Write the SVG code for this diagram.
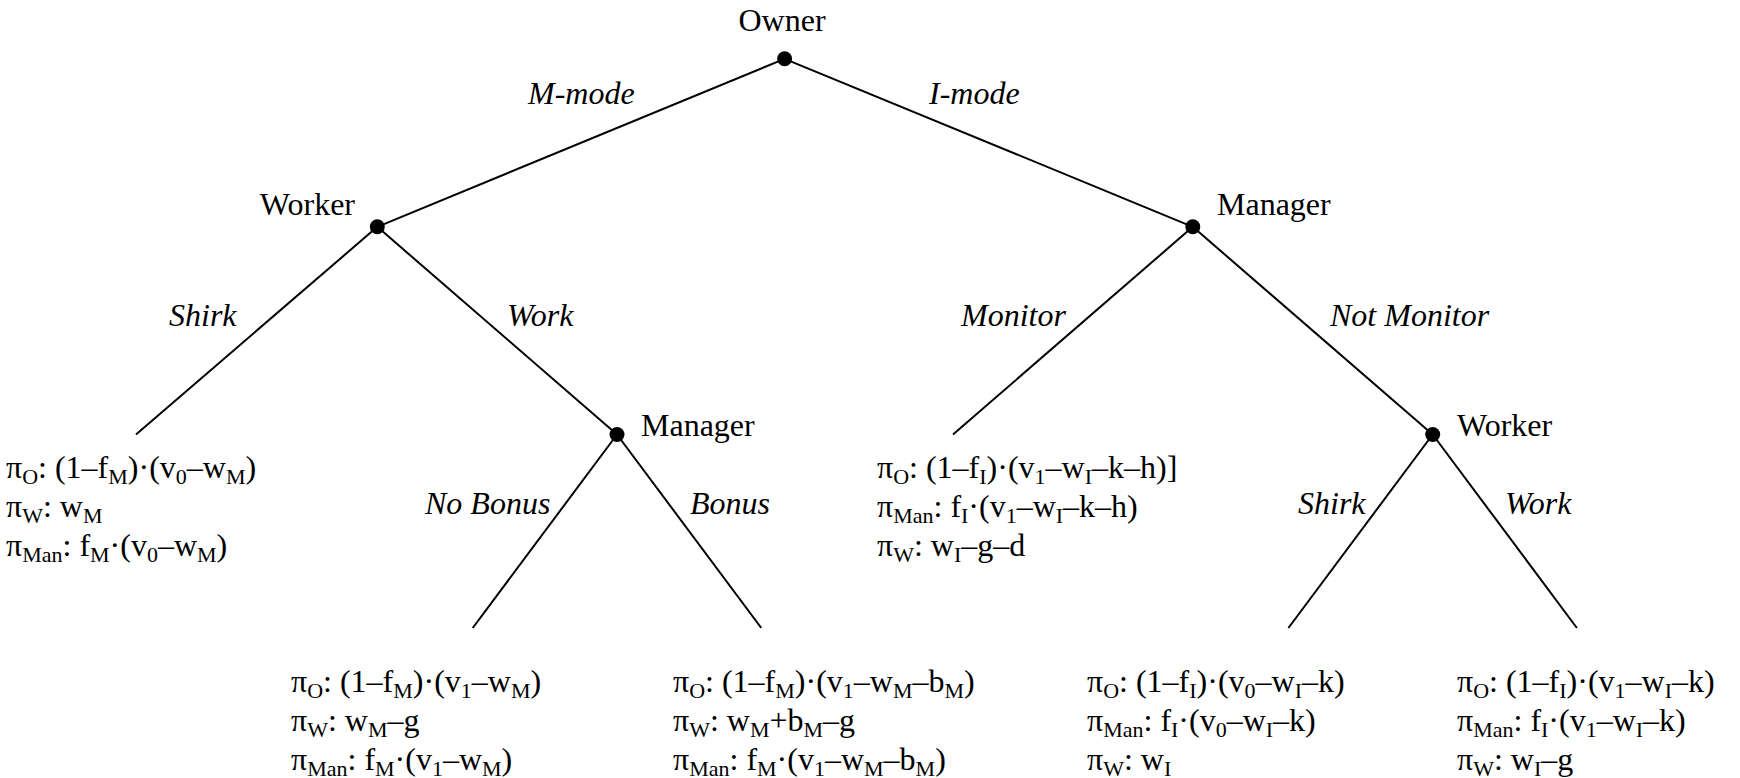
<svg xmlns="http://www.w3.org/2000/svg" width="1740" height="778" viewBox="0 0 1740 778">
<style>
text { font-family: "Liberation Serif", "Times New Roman", serif; font-size: 32px; fill: #000; }
.i { font-style: italic; }
.b { font-size: 22px; }
.e { stroke: #000; stroke-width: 2; fill: none; }
.dot { fill: #000; }
</style>
<rect width="1740" height="778" fill="#fff"/>
<g id="connectors">
  <line class="e" x1="784.6" y1="58.8" x2="377.3" y2="226.8"/>
  <line class="e" x1="784.6" y1="58.8" x2="1192.8" y2="226.8"/>
  <line class="e" x1="377.3" y1="226.8" x2="136" y2="434.5"/>
  <line class="e" x1="377.3" y1="226.8" x2="617" y2="434.5"/>
  <line class="e" x1="617" y1="434.5" x2="472.7" y2="628"/>
  <line class="e" x1="617" y1="434.5" x2="761.3" y2="628"/>
  <line class="e" x1="1192.8" y1="226.8" x2="953" y2="434.5"/>
  <line class="e" x1="1192.8" y1="226.8" x2="1432.7" y2="434.5"/>
  <line class="e" x1="1432.7" y1="434.5" x2="1288.4" y2="628"/>
  <line class="e" x1="1432.7" y1="434.5" x2="1576.9" y2="628"/>
</g>
<g id="edge-labels">
  <text class="i" x="528" y="104">M-mode</text>
  <text class="i" x="929" y="104">I-mode</text>
  <text class="i" x="169" y="326">Shirk</text>
  <text class="i" x="507" y="326">Work</text>
  <text class="i" x="961" y="326">Monitor</text>
  <text class="i" x="1330" y="326">Not Monitor</text>
  <text class="i" x="425" y="514">No Bonus</text>
  <text class="i" x="690" y="514">Bonus</text>
  <text class="i" x="1298" y="514">Shirk</text>
  <text class="i" x="1505" y="514">Work</text>
</g>
<g id="node-owner">
  <circle class="dot" cx="784.6" cy="58.8" r="7.5"/>
  <text x="782" y="31" text-anchor="middle">Owner</text>
</g>
<g id="node-worker-m">
  <circle class="dot" cx="377.3" cy="226.8" r="7.5"/>
  <text x="355" y="215" text-anchor="end">Worker</text>
</g>
<g id="node-manager-i">
  <circle class="dot" cx="1192.8" cy="226.8" r="7.5"/>
  <text x="1217" y="215">Manager</text>
</g>
<g id="node-manager-m">
  <circle class="dot" cx="617" cy="434.5" r="7.5"/>
  <text x="641" y="436">Manager</text>
</g>
<g id="node-worker-i">
  <circle class="dot" cx="1432.7" cy="434.5" r="7.5"/>
  <text x="1457" y="436">Worker</text>
</g>
<g id="payoff-m-shirk">
  <text x="6" y="478">π<tspan class="b" dy="6">O</tspan><tspan dy="-6">: (1–f</tspan><tspan class="b" dy="6">M</tspan><tspan dy="-6">)·(v</tspan><tspan class="b" dy="6">0</tspan><tspan dy="-6">–w</tspan><tspan class="b" dy="6">M</tspan><tspan dy="-6">)</tspan></text>
  <text x="6" y="517">π<tspan class="b" dy="6">W</tspan><tspan dy="-6">: w</tspan><tspan class="b" dy="6">M</tspan></text>
  <text x="6" y="556">π<tspan class="b" dy="6">Man</tspan><tspan dy="-6">: f</tspan><tspan class="b" dy="6">M</tspan><tspan dy="-6">·(v</tspan><tspan class="b" dy="6">0</tspan><tspan dy="-6">–w</tspan><tspan class="b" dy="6">M</tspan><tspan dy="-6">)</tspan></text>
</g>
<g id="payoff-m-nobonus">
  <text x="291" y="692">π<tspan class="b" dy="6">O</tspan><tspan dy="-6">: (1–f</tspan><tspan class="b" dy="6">M</tspan><tspan dy="-6">)·(v</tspan><tspan class="b" dy="6">1</tspan><tspan dy="-6">–w</tspan><tspan class="b" dy="6">M</tspan><tspan dy="-6">)</tspan></text>
  <text x="291" y="731">π<tspan class="b" dy="6">W</tspan><tspan dy="-6">: w</tspan><tspan class="b" dy="6">M</tspan><tspan dy="-6">–g</tspan></text>
  <text x="291" y="770">π<tspan class="b" dy="6">Man</tspan><tspan dy="-6">: f</tspan><tspan class="b" dy="6">M</tspan><tspan dy="-6">·(v</tspan><tspan class="b" dy="6">1</tspan><tspan dy="-6">–w</tspan><tspan class="b" dy="6">M</tspan><tspan dy="-6">)</tspan></text>
</g>
<g id="payoff-m-bonus">
  <text x="673" y="692">π<tspan class="b" dy="6">O</tspan><tspan dy="-6">: (1–f</tspan><tspan class="b" dy="6">M</tspan><tspan dy="-6">)·(v</tspan><tspan class="b" dy="6">1</tspan><tspan dy="-6">–w</tspan><tspan class="b" dy="6">M</tspan><tspan dy="-6">–b</tspan><tspan class="b" dy="6">M</tspan><tspan dy="-6">)</tspan></text>
  <text x="673" y="731">π<tspan class="b" dy="6">W</tspan><tspan dy="-6">: w</tspan><tspan class="b" dy="6">M</tspan><tspan dy="-6">+b</tspan><tspan class="b" dy="6">M</tspan><tspan dy="-6">–g</tspan></text>
  <text x="673" y="770">π<tspan class="b" dy="6">Man</tspan><tspan dy="-6">: f</tspan><tspan class="b" dy="6">M</tspan><tspan dy="-6">·(v</tspan><tspan class="b" dy="6">1</tspan><tspan dy="-6">–w</tspan><tspan class="b" dy="6">M</tspan><tspan dy="-6">–b</tspan><tspan class="b" dy="6">M</tspan><tspan dy="-6">)</tspan></text>
</g>
<g id="payoff-i-monitor">
  <text x="877" y="478">π<tspan class="b" dy="6">O</tspan><tspan dy="-6">: (1–f</tspan><tspan class="b" dy="6">I</tspan><tspan dy="-6">)·(v</tspan><tspan class="b" dy="6">1</tspan><tspan dy="-6">–w</tspan><tspan class="b" dy="6">I</tspan><tspan dy="-6">–k–h)]</tspan></text>
  <text x="877" y="517">π<tspan class="b" dy="6">Man</tspan><tspan dy="-6">: f</tspan><tspan class="b" dy="6">I</tspan><tspan dy="-6">·(v</tspan><tspan class="b" dy="6">1</tspan><tspan dy="-6">–w</tspan><tspan class="b" dy="6">I</tspan><tspan dy="-6">–k–h)</tspan></text>
  <text x="877" y="556">π<tspan class="b" dy="6">W</tspan><tspan dy="-6">: w</tspan><tspan class="b" dy="6">I</tspan><tspan dy="-6">–g–d</tspan></text>
</g>
<g id="payoff-i-shirk">
  <text x="1087" y="692">π<tspan class="b" dy="6">O</tspan><tspan dy="-6">: (1–f</tspan><tspan class="b" dy="6">I</tspan><tspan dy="-6">)·(v</tspan><tspan class="b" dy="6">0</tspan><tspan dy="-6">–w</tspan><tspan class="b" dy="6">I</tspan><tspan dy="-6">–k)</tspan></text>
  <text x="1087" y="731">π<tspan class="b" dy="6">Man</tspan><tspan dy="-6">: f</tspan><tspan class="b" dy="6">I</tspan><tspan dy="-6">·(v</tspan><tspan class="b" dy="6">0</tspan><tspan dy="-6">–w</tspan><tspan class="b" dy="6">I</tspan><tspan dy="-6">–k)</tspan></text>
  <text x="1087" y="770">π<tspan class="b" dy="6">W</tspan><tspan dy="-6">: w</tspan><tspan class="b" dy="6">I</tspan></text>
</g>
<g id="payoff-i-work">
  <text x="1457" y="692">π<tspan class="b" dy="6">O</tspan><tspan dy="-6">: (1–f</tspan><tspan class="b" dy="6">I</tspan><tspan dy="-6">)·(v</tspan><tspan class="b" dy="6">1</tspan><tspan dy="-6">–w</tspan><tspan class="b" dy="6">I</tspan><tspan dy="-6">–k)</tspan></text>
  <text x="1457" y="731">π<tspan class="b" dy="6">Man</tspan><tspan dy="-6">: f</tspan><tspan class="b" dy="6">I</tspan><tspan dy="-6">·(v</tspan><tspan class="b" dy="6">1</tspan><tspan dy="-6">–w</tspan><tspan class="b" dy="6">I</tspan><tspan dy="-6">–k)</tspan></text>
  <text x="1457" y="770">π<tspan class="b" dy="6">W</tspan><tspan dy="-6">: w</tspan><tspan class="b" dy="6">I</tspan><tspan dy="-6">–g</tspan></text>
</g>
</svg>
